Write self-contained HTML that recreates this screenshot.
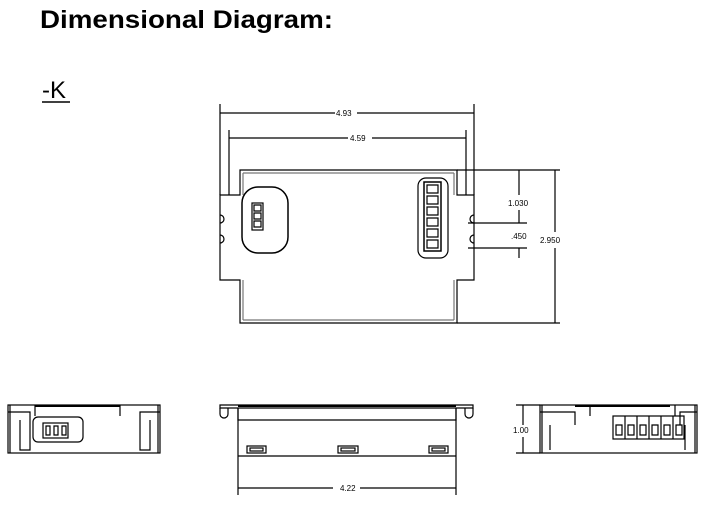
<!DOCTYPE html>
<html><head><style>
html,body{margin:0;padding:0;background:#fff;width:719px;height:509px;overflow:hidden}
</style></head><body>
<svg width="719" height="509" viewBox="0 0 719 509" xmlns="http://www.w3.org/2000/svg" font-family="Liberation Sans, sans-serif">
<text x="40" y="28" font-size="25" font-weight="bold" fill="#000" textLength="293" lengthAdjust="spacingAndGlyphs">Dimensional Diagram:</text>
<text x="42" y="98" font-size="24" fill="#000">-K</text>
<line x1="42" y1="102" x2="70" y2="102" stroke="#000" stroke-width="1.5"/>
<g stroke="#000" fill="none" stroke-width="1.2">
<!-- top view body -->
<path d="M240 170 H457 V195 H474 V280 H457 V323 H240 V280 H220 V195 H240 Z"/>
<path d="M243 173 H454 M243 320 H454 M243 173 V195 M454 173 V195 M243 280 V320 M454 280 V320" stroke="#777"/>
<path d="M220 215 a4 4 0 0 1 0 8 M220 235 a4 4 0 0 1 0 8 M474 215 a4 4 0 0 0 0 8 M474 235 a4 4 0 0 0 0 8"/>
<rect x="242" y="187" width="46" height="66" rx="16" stroke-width="1.5"/>
<rect x="252" y="203" width="11" height="27"/>
<path d="M254 205 h7 v6 h-7z M254 213 h7 v6 h-7z M254 221 h7 v6 h-7z"/>
<rect x="418" y="178" width="30" height="80" rx="8"/>
<rect x="424" y="182" width="17" height="69" stroke-width="1.5"/>
<path d="M427 185h11v8h-11z M427 196h11v8h-11z M427 207h11v8h-11z M427 218h11v8h-11z M427 229h11v8h-11z M427 240h11v8h-11z"/>
<!-- dims -->
<path d="M220 104 V195 M474 104 V195 M229 130 V195 M466 130 V195"/>
<path d="M220 113 H335 M357 113 H474 M229 138 H348 M372 138 H466"/>
<path d="M457 170 H560 M457 323 H560 M468 223 H527 M468 248 H527"/>
<path d="M555 170 V232 M555 248 V323 M519 170 V195 M519 210 V223 M519 248 V258"/>
</g>
<g font-size="8" fill="#000" font-family="Liberation Sans Narrow, Liberation Sans, sans-serif">
<text x="336" y="116">4.93</text>
<text x="350" y="141">4.59</text>
<text x="508" y="206">1.030</text>
<text x="511" y="239">.450</text>
<text x="540" y="243">2.950</text>
<text x="513" y="433">1.00</text>
<text x="340" y="491">4.22</text>
</g>
<g stroke="#000" fill="none" stroke-width="1.2">
<!-- left end view -->
<rect x="8" y="405" width="152" height="48"/>
<path d="M10 405 V453 M158 405 V453 M8 412 H30 V425 M160 412 H140 V425 M120 405 V416 M35 405 V416 M30 420 V450 H20 V420 M140 420 V450 H150 V420"/>
<path d="M35 406 H120" stroke-width="2"/>
<rect x="33" y="417" width="50" height="25" rx="5"/>
<rect x="43" y="423" width="25" height="15"/>
<path d="M46 426h4v9h-4z M54 426h4v9h-4z M62 426h4v9h-4z"/>
<!-- middle side view -->
<path d="M220 405 H473 V408 H220 Z"/>
<path d="M238 408 V420 H456 V408"/>
<path d="M238 408 V456 M456 408 V456 M238 456 H456"/>
<path d="M220 408 V414 a4 4 0 0 0 8 0 V408 M465 408 V414 a4 4 0 0 0 8 0 V408"/>
<path d="M238 406 H456" stroke-width="2"/>
<rect x="247" y="446" width="19" height="7"/><rect x="250" y="448" width="13" height="3"/>
<rect x="338" y="446" width="20" height="7"/><rect x="341" y="448" width="14" height="3"/>
<rect x="429" y="446" width="19" height="7"/><rect x="432" y="448" width="13" height="3"/>
<path d="M238 456 V495 M456 456 V495 M238 488 H333 M360 488 H456"/>
<!-- right end view -->
<rect x="540" y="405" width="157" height="48"/>
<path d="M542 405 V453 M695 405 V453 M540 412 H575 V425 M697 412 H680 V425 M590 405 V416 M675 405 V416 M550 425 V450 M685 425 V450"/>
<path d="M575 406 H670" stroke-width="2"/>
<rect x="613" y="416" width="71" height="23"/>
<path d="M625 416V439 M637 416V439 M649 416V439 M661 416V439 M673 416V439"/>
<path d="M616 425h6v10h-6z M628 425h6v10h-6z M640 425h6v10h-6z M652 425h6v10h-6z M664 425h6v10h-6z M676 425h6v10h-6z"/>
<path d="M516 405 H540 M516 453 H540 M523 405 V425 M523 437 V453"/>
</g>
</svg>
</body></html>
